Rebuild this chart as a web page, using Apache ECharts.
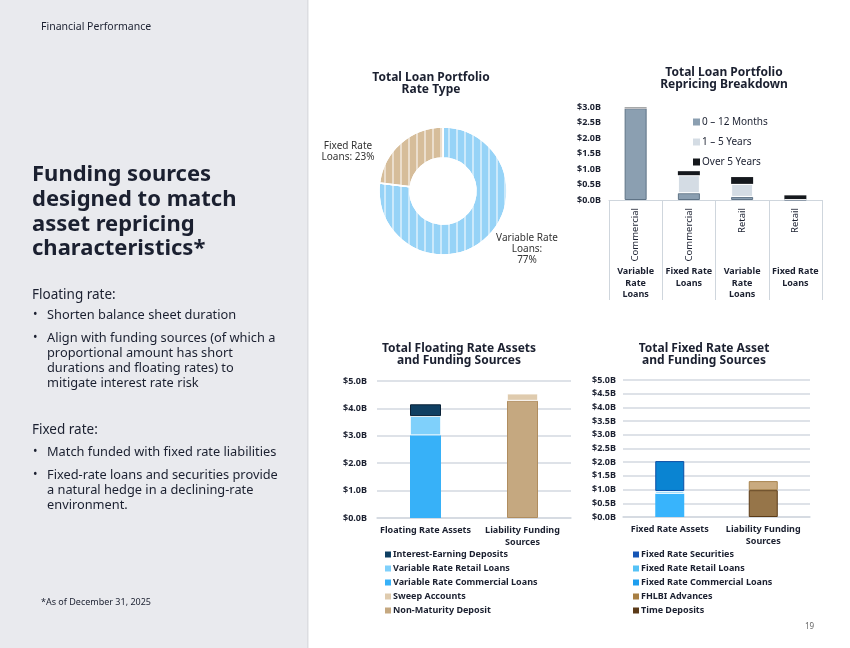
<!DOCTYPE html>
<html>
<head>
<meta charset="utf-8">
<script src="https://cdn.jsdelivr.net/npm/echarts@6/dist/echarts.min.js"></script>
<style>
  html, body { margin: 0; padding: 0; background: #fff; }
  #chart { width: 850px; height: 648px; }
</style>
</head>
<body>
<div id="chart"></div>
<script>
const FONT = 'Noto Sans'
const INK = '#1b2030'

// total loan portfolio rate type (%)
const rateTypeNames = ['Variable Rate Loans', 'Fixed Rate Loans']
const rateTypeValues = [77, 23]

// repricing breakdown ($B)
const repricingTypes = ['Commercial', 'Commercial', 'Retail', 'Retail']
const repricingGroups = ['Variable\nRate\nLoans', 'Fixed Rate\nLoans', 'Variable\nRate\nLoans', 'Fixed Rate\nLoans']
const months0to12 = [2.96, 0.22, 0.10, 0.01]
const years1to5 = [0, 0.58, 0.42, 0.02]
const over5Years = [0.02, 0.13, 0.22, 0.12]
const repricingTicks = ['$0.0B', '$0.5B', '$1.0B', '$1.5B', '$2.0B', '$2.5B', '$3.0B']

// floating rate assets and funding ($B)
const floatingCats = ['Floating Rate Assets', 'Liability Funding\nSources']
const varCommercialLoans = [3.02, '-']
const varRetailLoans = [0.70, '-']
const interestEarningDeposits = [0.43, '-']
const nonMaturityDeposit = ['-', 4.28]
const sweepAccounts = ['-', 0.26]
const floatingTicks = ['$0.0B', '$1.0B', '$2.0B', '$3.0B', '$4.0B', '$5.0B']

// fixed rate assets and funding ($B)
const fixedCats = ['Fixed Rate Assets', 'Liability Funding\nSources']
const fixedCommercialLoans = [0.85, '-']
const fixedRetailLoans = [0.10, '-']
const fixedSecurities = [1.09, '-']
const timeDeposits = ['-', 0.98]
const fhlbiAdvances = ['-', 0.33]
const fixedTicks = ['$0.0B', '$0.5B', '$1.0B', '$1.5B', '$2.0B', '$2.5B', '$3.0B', '$3.5B', '$4.0B', '$4.5B', '$5.0B']

const chart = echarts.init(document.getElementById('chart'))

const axisLabelStyle = { fontFamily: FONT, fontSize: 9, fontWeight: 'bold', color: INK }
const titleStyle = { fontFamily: FONT, fontSize: 12, fontWeight: 'bold', color: INK, lineHeight: 12.5 }
const gridLine = { color: '#d3d9e0', width: 1.5 }

// left panel text
const txt = (x, y, text, size, weight, extra) => ({
    type: 'text', x, y,
    style: Object.assign({ text, fontFamily: FONT, fontSize: size, fontWeight: weight || 'normal', fill: INK, verticalAlign: 'middle' }, extra || {})
})
const bodyLines = [
    [47, 315, 'Shorten balance sheet duration', true],
    [47, 338, 'Align with funding sources (of which a', true],
    [47, 353, 'proportional amount has short'],
    [47, 368, 'durations and floating rates) to'],
    [47, 383, 'mitigate interest rate risk'],
    [47, 452, 'Match funded with fixed rate liabilities', true],
    [47, 475, 'Fixed-rate loans and securities provide', true],
    [47, 490, 'a natural hedge in a declining-rate'],
    [47, 505, 'environment.']
]
const graphics = [
    { type: 'rect', shape: { x: 0, y: 0, width: 307, height: 648 }, style: { fill: '#e9eaee' } },
    { type: 'rect', shape: { x: 307, y: 0, width: 1.5, height: 648 }, style: { fill: '#dcdde1' } },
    txt(41, 27, 'Financial Performance', 10.5),
    txt(32, 212, 'Funding sources\ndesigned to match\nasset repricing\ncharacteristics*', 22, 'bold', { lineHeight: 24.6 }),
    txt(32, 295, 'Floating rate:', 13.5),
    txt(32, 430, 'Fixed rate:', 13.5),
    txt(41, 602, '*As of December 31, 2025', 9),
    txt(805, 627, '19', 8, 'normal', { fill: '#666' })
]
bodyLines.forEach(([x, y, t, bullet]) => {
    graphics.push(txt(x, y, t, 12.8))
    if (bullet) graphics.push(txt(33, y, '•', 12))
})

const legendText = { fontFamily: FONT, fontSize: 9, fontWeight: 'bold', color: INK, padding: [0, 0, 0, -3] }

const option = {
    animation: false,
    textStyle: { fontFamily: FONT },
    graphic: { elements: graphics },
    title: [
        { text: 'Total Loan Portfolio\nRate Type', left: 426, top: 66, textAlign: 'center', textStyle: titleStyle },
        { text: 'Total Loan Portfolio\nRepricing Breakdown', left: 719, top: 61, textAlign: 'center', textStyle: titleStyle },
        { text: 'Total Floating Rate Assets\nand Funding Sources', left: 454, top: 337, textAlign: 'center', textStyle: titleStyle },
        { text: 'Total Fixed Rate Asset\nand Funding Sources', left: 699, top: 337, textAlign: 'center', textStyle: titleStyle }
    ],
    legend: [
        {
            left: 693, top: 117, padding: 0, orient: 'vertical', itemGap: 10, itemWidth: 7, itemHeight: 7,
            icon: 'rect', itemStyle: { borderWidth: 0 },
            textStyle: { fontFamily: FONT, fontSize: 10, color: INK, padding: [0, 0, 0, -3] },
            data: ['0 – 12 Months', '1 – 5 Years', 'Over 5 Years']
        },
        {
            left: 385, top: 550, padding: 0, orient: 'vertical', itemGap: 5, itemWidth: 6, itemHeight: 6,
            icon: 'rect', itemStyle: { borderWidth: 0 },
            textStyle: legendText,
            data: ['Interest-Earning Deposits', 'Variable Rate Retail Loans', 'Variable Rate Commercial Loans', 'Sweep Accounts', 'Non-Maturity Deposit']
        },
        {
            left: 633, top: 550, padding: 0, orient: 'vertical', itemGap: 5, itemWidth: 6, itemHeight: 6,
            icon: 'rect', itemStyle: { borderWidth: 0 },
            textStyle: legendText,
            data: [
                { name: 'Fixed Rate Securities', itemStyle: { color: '#1555b5' } },
                { name: 'Fixed Rate Retail Loans', itemStyle: { color: '#55c2f6' } },
                { name: 'Fixed Rate Commercial Loans', itemStyle: { color: '#1d9eef' } },
                { name: 'FHLBI Advances', itemStyle: { color: '#a87f43' } },
                { name: 'Time Deposits', itemStyle: { color: '#5b3a18' } }
            ]
        }
    ],
    grid: [
        { left: 609, top: 107, width: 213, height: 93 },
        { left: 377, top: 381, width: 194, height: 137 },
        { left: 623, top: 380, width: 187, height: 137 }
    ],
    xAxis: [
        {
            type: 'category', gridIndex: 0, data: repricingTypes,
            axisLine: { lineStyle: { color: '#cfd6dd' } },
            axisTick: { show: true, length: 100, lineStyle: { color: '#cfd6dd' } },
            axisLabel: { interval: 0, rotate: 90, margin: 8, fontFamily: FONT, fontSize: 9.5, color: INK }
        },
        {
            type: 'category', gridIndex: 0, data: repricingGroups, position: 'bottom', offset: 58,
            axisLine: { show: false }, axisTick: { show: false },
            axisLabel: { interval: 0, margin: 8, fontFamily: FONT, fontSize: 9, fontWeight: 'bold', color: INK, lineHeight: 11.5 }
        },
        {
            type: 'category', gridIndex: 1, data: floatingCats,
            axisLine: { lineStyle: gridLine }, axisTick: { show: false },
            axisLabel: { interval: 0, margin: 6, fontFamily: FONT, fontSize: 9, fontWeight: 'bold', color: INK, lineHeight: 12 }
        },
        {
            type: 'category', gridIndex: 2, data: fixedCats,
            axisLine: { lineStyle: gridLine }, axisTick: { show: false },
            axisLabel: { interval: 0, margin: 6, fontFamily: FONT, fontSize: 9, fontWeight: 'bold', color: INK, lineHeight: 12 }
        }
    ],
    yAxis: [
        {
            type: 'value', gridIndex: 0, min: 0, max: 3, interval: 0.5,
            splitLine: { show: false },
            axisLabel: Object.assign({ margin: 8, formatter: (v, i) => repricingTicks[i] }, axisLabelStyle)
        },
        {
            type: 'value', gridIndex: 1, min: 0, max: 5, interval: 1,
            splitLine: { lineStyle: gridLine },
            axisLabel: Object.assign({ margin: 10, formatter: (v, i) => floatingTicks[i] }, axisLabelStyle)
        },
        {
            type: 'value', gridIndex: 2, min: 0, max: 5, interval: 0.5,
            splitLine: { lineStyle: gridLine },
            axisLabel: Object.assign({ margin: 7, formatter: (v, i) => fixedTicks[i] }, axisLabelStyle)
        }
    ],
    series: [
        {
            type: 'pie', center: [443, 191], radius: [33, 64], startAngle: 90, clockwise: true,
            silent: true,
            itemStyle: { borderColor: '#fff', borderWidth: 1.5 },
            label: {
                position: 'outside', fontFamily: FONT, fontSize: 10, color: '#333', lineHeight: 11, align: 'center'
            },
            labelLine: { show: false },
            labelLayout: p => p.dataIndex === 0
                ? { x: 527, y: 249, align: 'center', verticalAlign: 'middle' }
                : { x: 348, y: 152, align: 'center', verticalAlign: 'middle' },
            data: [
                {
                    name: rateTypeNames[0], value: rateTypeValues[0],
                    label: { formatter: 'Variable Rate\nLoans:\n{c}%' },
                    itemStyle: {
                        color: '#96d3f7',
                        decal: { symbol: 'rect', symbolSize: 1, symbolKeepAspect: false, color: 'rgba(255,255,255,0.5)', dashArrayX: [1.2, 5.8], dashArrayY: [6, 0] }
                    }
                },
                {
                    name: rateTypeNames[1], value: rateTypeValues[1],
                    label: { formatter: 'Fixed Rate\nLoans: {c}%' },
                    itemStyle: {
                        color: '#d6bd9a',
                        decal: { symbol: 'rect', symbolSize: 1, symbolKeepAspect: false, color: 'rgba(255,255,255,0.5)', dashArrayX: [1.2, 5.8], dashArrayY: [6, 0] }
                    }
                }
            ]
        },
        {
            name: '0 – 12 Months', type: 'bar', xAxisIndex: 0, yAxisIndex: 0, stack: 'r', barWidth: 22,
            data: months0to12, itemStyle: { color: '#8b9fb1', borderColor: '#5f7386', borderWidth: 1 }
        },
        {
            name: '1 – 5 Years', type: 'bar', xAxisIndex: 0, yAxisIndex: 0, stack: 'r', barWidth: 22,
            data: years1to5, itemStyle: { color: '#d4dce4', borderColor: '#fff', borderWidth: 1 }
        },
        {
            name: 'Over 5 Years', type: 'bar', xAxisIndex: 0, yAxisIndex: 0, stack: 'r', barWidth: 22,
            data: over5Years, itemStyle: { color: '#15181d' }
        },
        {
            name: 'Variable Rate Commercial Loans', type: 'bar', xAxisIndex: 2, yAxisIndex: 1, stack: 'f', barWidth: 31,
            data: varCommercialLoans, itemStyle: { color: '#37b1f8' }
        },
        {
            name: 'Variable Rate Retail Loans', type: 'bar', xAxisIndex: 2, yAxisIndex: 1, stack: 'f', barWidth: 31,
            data: varRetailLoans, itemStyle: { color: '#7fd0fb', borderColor: '#fff', borderWidth: 0.8 }
        },
        {
            name: 'Interest-Earning Deposits', type: 'bar', xAxisIndex: 2, yAxisIndex: 1, stack: 'f', barWidth: 31,
            data: interestEarningDeposits, itemStyle: { color: '#0f3f62', borderColor: '#0a2238', borderWidth: 1 }
        },
        {
            name: 'Non-Maturity Deposit', type: 'bar', xAxisIndex: 2, yAxisIndex: 1, stack: 'f', barWidth: 31,
            data: nonMaturityDeposit, itemStyle: { color: '#c5a880', borderColor: '#b08d5f', borderWidth: 1 }
        },
        {
            name: 'Sweep Accounts', type: 'bar', xAxisIndex: 2, yAxisIndex: 1, stack: 'f', barWidth: 31,
            data: sweepAccounts, itemStyle: { color: '#dfcbae', borderColor: '#fff', borderWidth: 0.8 }
        },
        {
            name: 'Fixed Rate Commercial Loans', type: 'bar', xAxisIndex: 3, yAxisIndex: 2, stack: 'x', barWidth: 29,
            data: fixedCommercialLoans, itemStyle: { color: '#38b4fc' }
        },
        {
            name: 'Fixed Rate Retail Loans', type: 'bar', xAxisIndex: 3, yAxisIndex: 2, stack: 'x', barWidth: 29,
            data: fixedRetailLoans, itemStyle: { color: '#8fd6fb', borderColor: '#fff', borderWidth: 0.8 }
        },
        {
            name: 'Fixed Rate Securities', type: 'bar', xAxisIndex: 3, yAxisIndex: 2, stack: 'x', barWidth: 29,
            data: fixedSecurities, itemStyle: { color: '#0a84d2', borderColor: '#0b4fa6', borderWidth: 1 }
        },
        {
            name: 'Time Deposits', type: 'bar', xAxisIndex: 3, yAxisIndex: 2, stack: 'x', barWidth: 29,
            data: timeDeposits, itemStyle: { color: '#967549', borderColor: '#5a3a16', borderWidth: 1 }
        },
        {
            name: 'FHLBI Advances', type: 'bar', xAxisIndex: 3, yAxisIndex: 2, stack: 'x', barWidth: 29,
            data: fhlbiAdvances, itemStyle: { color: '#c9aa7f', borderColor: '#a8844f', borderWidth: 1 }
        }
    ]
}

chart.setOption(option)
window.addEventListener('resize', () => {
    chart.resize()
})
</script>
</body>
</html>
